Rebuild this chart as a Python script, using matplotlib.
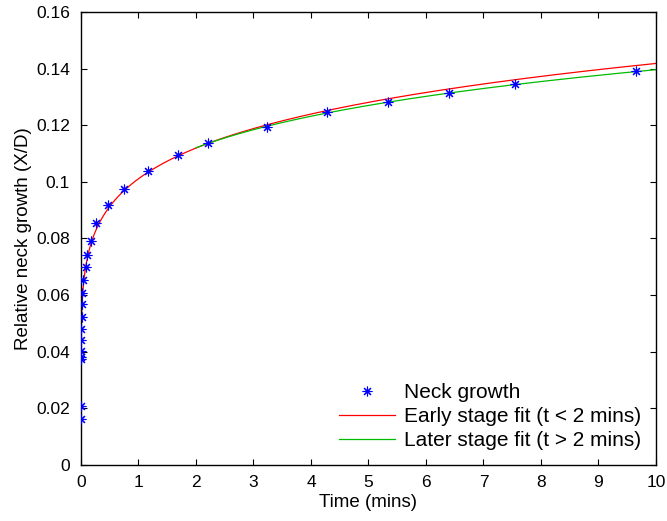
import numpy as np
import matplotlib
matplotlib.use("Agg")
import matplotlib.pyplot as plt

plt.rcParams['font.family'] = ['Liberation Sans', 'DejaVu Sans']

# Measured neck growth data
time_mins = [0.001, 0.002, 0.003, 0.004, 0.005, 0.006, 0.008, 0.010, 0.015, 0.02,
             0.03, 0.08, 0.10, 0.17, 0.26, 0.47, 0.74, 1.16, 1.68, 2.21,
             3.23, 4.28, 5.34, 6.40, 7.54, 9.66]
neck_xd = [0.0161, 0.0207, 0.0373, 0.0383, 0.0404, 0.0442, 0.0479, 0.0522, 0.0569, 0.0609,
           0.0653, 0.0698, 0.0742, 0.0792, 0.0854, 0.0919, 0.0975, 0.1040, 0.1096, 0.1137,
           0.1193, 0.1245, 0.1282, 0.1315, 0.1344, 0.1390]

# Power-law fit parameters X/D = a * t^n
early_fit = (0.1011, 0.147)
later_fit = (0.1019, 0.1368)

t_early = np.linspace(0, 10, 4000)
t_late = np.linspace(2, 10, 400)

fig = plt.figure(figsize=(6.67, 5.21), dpi=100)
ax = fig.add_axes([0.1214, 0.1075, 0.8621, 0.8695])

ax.plot(time_mins, neck_xd, linestyle='none', marker=(8, 2, 0), color='#0000ff',
        markersize=7, markeredgewidth=0.8, label='Neck growth', zorder=3)
ax.plot(t_early, early_fit[0] * t_early ** early_fit[1], '-', color='#ff0000', lw=0.9,
        label='Early stage fit (t < 2 mins)')
ax.plot(t_late, later_fit[0] * t_late ** later_fit[1], '-', color='#00bb00', lw=0.9,
        label='Later stage fit (t > 2 mins)')

ax.set_xlim(0, 10)
ax.set_ylim(0, 0.16)
ax.set_xticks(range(0, 11))
ax.set_yticks([0, 0.02, 0.04, 0.06, 0.08, 0.1, 0.12, 0.14, 0.16])
ax.set_yticklabels(['0', '0.02', '0.04', '0.06', '0.08', '0.1', '0.12', '0.14', '0.16'])
ax.tick_params(direction='in', top=True, right=True, labelsize=12.5, length=4.5, width=0.8)
ax.tick_params(axis='x', pad=7)
ax.tick_params(axis='y', pad=8)
for s in ax.spines.values():
    s.set_linewidth(1.0)

ax.set_xlabel('Time (mins)', fontsize=13.5, labelpad=3)
ax.set_ylabel('Relative neck growth (X/D)', fontsize=13.5, labelpad=3)

ax.legend(loc='lower right', frameon=False, fontsize=15, handlelength=2.7,
          handletextpad=0.45, borderaxespad=0.3, labelspacing=0.25)

fig.savefig('out.png', dpi=100)
